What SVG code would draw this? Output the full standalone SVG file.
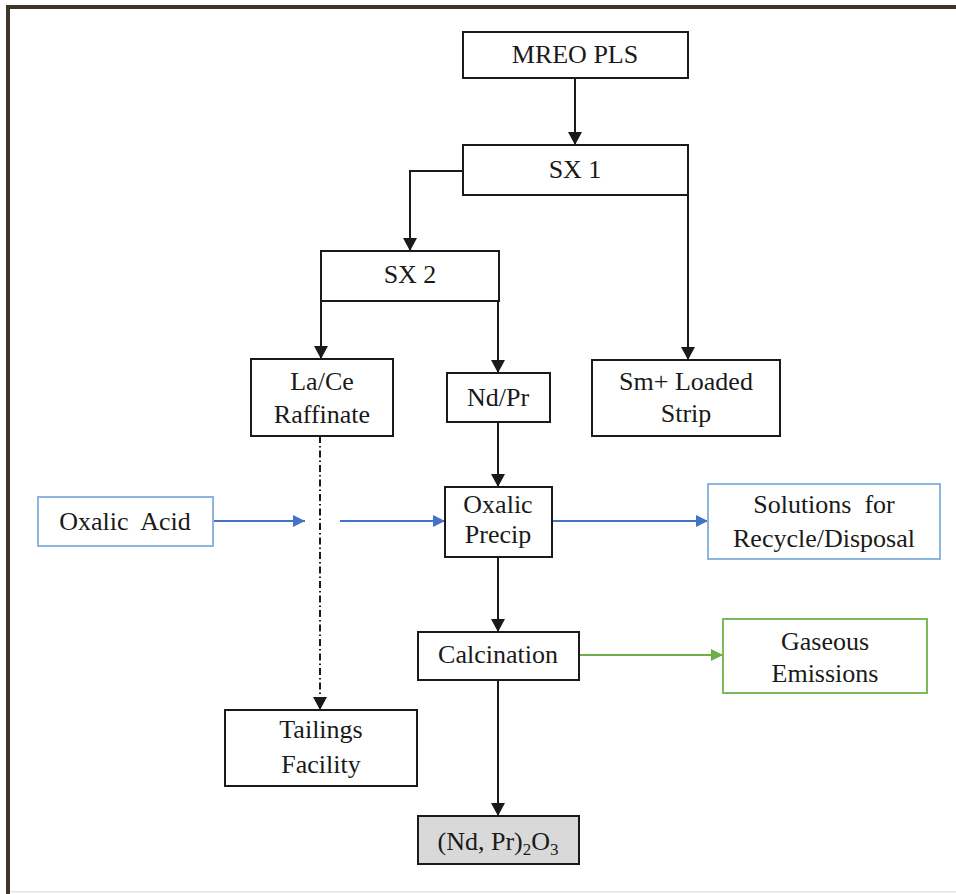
<svg xmlns="http://www.w3.org/2000/svg" width="956" height="894" viewBox="0 0 956 894">
<style>
.box{fill:#fff;stroke:#1a1a1a;stroke-width:2}
.blue{fill:#fff;stroke:#8fb4e0;stroke-width:2}
.green{fill:#fff;stroke:#7fb85a;stroke-width:2}
.grey{fill:#d9d9d9;stroke:#1a1a1a;stroke-width:2}
text{font-size:26px;fill:#1a1a1a;text-anchor:middle}
.c{fill:none;stroke:#1a1a1a;stroke-width:2}
.cb{fill:none;stroke:#4472c4;stroke-width:2}
.cg{fill:none;stroke:#70ad47;stroke-width:2}
</style>
<defs>
<marker id="ak" viewBox="0 0 13 14" refX="13" refY="7" markerWidth="13" markerHeight="14" markerUnits="userSpaceOnUse" orient="auto"><path d="M0,0L13,7L0,14z" fill="#1a1a1a"/></marker>
<marker id="ab" viewBox="0 0 12 12" refX="12" refY="6" markerWidth="12" markerHeight="12" markerUnits="userSpaceOnUse" orient="auto"><path d="M0,0L12,6L0,12z" fill="#4472c4"/></marker>
<marker id="ag" viewBox="0 0 12 12" refX="12" refY="6" markerWidth="12" markerHeight="12" markerUnits="userSpaceOnUse" orient="auto"><path d="M0,0L12,6L0,12z" fill="#70ad47"/></marker>
</defs>
<rect x="0" y="0" width="956" height="894" fill="#fff"/>
<rect x="6" y="5" width="950" height="4" fill="#3f3526"/>
<rect x="6" y="5" width="4" height="889" fill="#3f3526"/>
<rect x="10" y="891" width="946" height="1.5" fill="#e6e6e6"/>

<g id="connectors">
<path class="c" d="M575,78V145" marker-end="url(#ak)"/>
<path class="c" d="M463,171H410V251" marker-end="url(#ak)"/>
<path class="c" d="M688,195V360" marker-end="url(#ak)"/>
<path class="c" d="M321,301V359" marker-end="url(#ak)"/>
<path class="c" d="M498,301V373" marker-end="url(#ak)"/>
<path class="c" d="M498,422V487" marker-end="url(#ak)"/>
<path class="c" d="M320,436V710" stroke-dasharray="7 3 1.5 3" marker-end="url(#ak)"/>
<path class="cb" d="M213,521H305" marker-end="url(#ab)"/>
<path class="cb" d="M340,521H445" marker-end="url(#ab)"/>
<path class="cb" d="M552,521H708" marker-end="url(#ab)"/>
<path class="c" d="M498,557V632" marker-end="url(#ak)"/>
<path class="c" d="M498,680V816" marker-end="url(#ak)"/>
<path class="cg" d="M579,655H723" marker-end="url(#ag)"/>
</g>

<g font-family="'Liberation Serif', 'Times New Roman', Tinos, 'DejaVu Serif', serif">
<g id="mreo"><rect class="box" x="463" y="32" width="225" height="46"/><text x="575" y="63">MREO PLS</text></g>
<g id="sx1"><rect class="box" x="463" y="145" width="225" height="50"/><text x="575" y="178">SX 1</text></g>
<g id="sx2"><rect class="box" x="321" y="251" width="178" height="50"/><text x="410" y="283">SX 2</text></g>
<g id="lace"><rect class="box" x="251" y="359" width="142" height="77"/><text x="322" y="390">La/Ce</text><text x="322" y="423">Raffinate</text></g>
<g id="ndpr"><rect class="box" x="447" y="373" width="103" height="49"/><text x="498" y="406">Nd/Pr</text></g>
<g id="sm"><rect class="box" x="592" y="360" width="188" height="76"/><text x="686" y="390">Sm+ Loaded</text><text x="686" y="422">Strip</text></g>
<g id="oxacid"><rect class="blue" x="38" y="497" width="175" height="49"/><text x="125" y="530" xml:space="preserve">Oxalic  Acid</text></g>
<g id="oxprecip"><rect class="box" x="445" y="487" width="107" height="70"/><text x="498" y="513">Oxalic</text><text x="498" y="543">Precip</text></g>
<g id="solutions"><rect class="blue" x="708" y="484" width="232" height="75"/><text x="824" y="513" xml:space="preserve">Solutions  for</text><text x="824" y="547">Recycle/Disposal</text></g>
<g id="calcination"><rect class="box" x="418" y="632" width="161" height="48"/><text x="498" y="663">Calcination</text></g>
<g id="gaseous"><rect class="green" x="723" y="619" width="204" height="74"/><text x="825" y="650">Gaseous</text><text x="825" y="682">Emissions</text></g>
<g id="tailings"><rect class="box" x="225" y="710" width="192" height="76"/><text x="321" y="738">Tailings</text><text x="321" y="773">Facility</text></g>
<g id="product"><rect class="grey" x="418" y="816" width="161" height="48"/><text x="498" y="850">(Nd, Pr)<tspan font-size="17" dy="5">2</tspan><tspan dy="-5">O</tspan><tspan font-size="17" dy="5">3</tspan></text></g>
</g>
</svg>
